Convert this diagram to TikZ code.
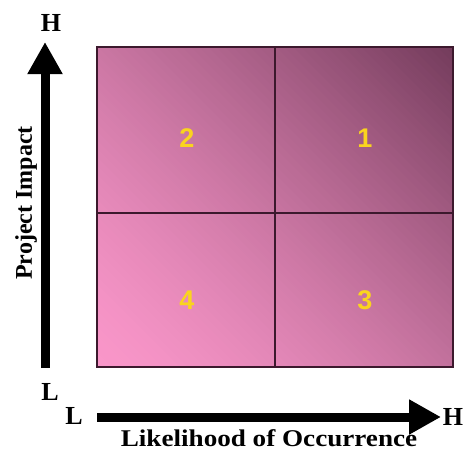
\documentclass[tikz,border=0pt]{standalone}
\usepackage{fontspec}
\setmainfont{Liberation Serif}
\newfontfamily\numfont{Liberation Sans}
\usetikzlibrary{arrows.meta}
\definecolor{lightpink}{RGB}{249,150,201}
\definecolor{darkplum}{RGB}{116,60,92}
\definecolor{gridline}{RGB}{60,25,45}
\definecolor{numyellow}{RGB}{250,212,30}
\tikzset{
  axisarrow/.style={line width=9pt, -{Triangle[width=33pt,length=32pt]}},
  axislabel/.style={font=\fontsize{26}{28}\selectfont\bfseries, inner sep=0pt},
  titlelabel/.style={font=\fontsize{24}{26}\selectfont\bfseries, inner sep=0pt},
  quadnum/.style={font=\numfont\fontsize{27}{29}\selectfont\bfseries, text=numyellow, inner sep=0pt},
}
\begin{document}
\begin{tikzpicture}[x=1pt,y=-1pt]
\useasboundingbox (0,0) rectangle (464,451);
% matrix background: diagonal gradient
\begin{scope}
\clip (97,47) rectangle (453,367);
\begin{scope}[shift={(275,207)}, rotate=45]
\foreach \i in {0,...,79}{
  \pgfmathsetmacro{\p}{100*(\i/79)^1.4}
  \pgfmathsetmacro{\s}{-240+6*\i}
  \fill[darkplum!\p!lightpink] (\s,-300) rectangle ({\s+6.6},300);
}
\end{scope}
\end{scope}
\draw[gridline, line width=1.2pt] (97,47) rectangle (453,367);
\draw[gridline, line width=1.5pt] (275,47) -- (275,367);
\draw[gridline, line width=1.5pt] (97,213) -- (453,213);
\node[quadnum] (q2) at (187,138) {2};
\node[quadnum] (q1) at (365,138) {1};
\node[quadnum] (q4) at (187,300) {4};
\node[quadnum] (q3) at (365,300) {3};
% axes
\coordinate (vstart) at (45,368);
\coordinate (vend) at (45,42);
\coordinate (hstart) at (97,417);
\coordinate (hend) at (441,417);
\draw[axisarrow] (vstart) -- (vend);
\draw[axisarrow] (hstart) -- (hend);
\node[axislabel] (vH) at (51,23) {H};
\node[axislabel] (vL) at (50,392) {L};
\node[axislabel] (hL) at (74,416) {L};
\node[axislabel] (hH) at (453,417) {H};
\node[titlelabel, rotate=90] (vlab) at (26,203) {Project Impact};
\node[titlelabel, anchor=base, xscale=1.13] (hlab) at (269,446) {Likelihood of Occurrence};
\end{tikzpicture}
\end{document}
